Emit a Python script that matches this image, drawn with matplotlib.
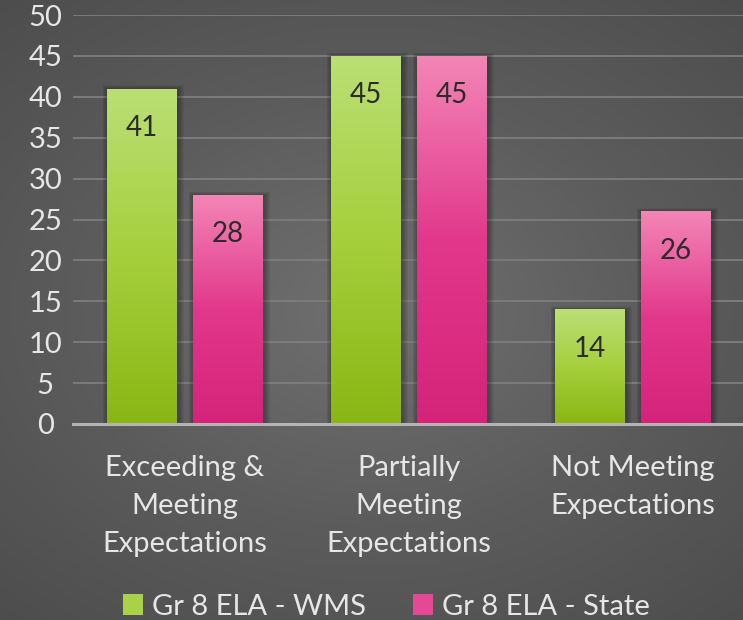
import numpy as np
import matplotlib
matplotlib.use("Agg")
import matplotlib.pyplot as plt
from matplotlib.colors import LinearSegmentedColormap
from matplotlib.patches import Rectangle

plt.rcParams['font.family'] = ['Lato', 'DejaVu Sans']

categories = ["Exceeding &\nMeeting\nExpectations", "Partially\nMeeting\nExpectations",
              "Not Meeting\nExpectations"]
series_names = ["Gr 8 ELA - WMS", "Gr 8 ELA - State"]
wms = [41, 45, 14]
state = [28, 45, 26]
yticks = [0, 5, 10, 15, 20, 25, 30, 35, 40, 45, 50]

green_cmap = LinearSegmentedColormap.from_list("g", ["#8ab614", "#a6cf3c", "#bbdf76"])
pink_cmap = LinearSegmentedColormap.from_list("p", ["#d5237a", "#e2388c", "#f386b6"])

fig = plt.figure(figsize=(7.43, 6.2), dpi=100)

# radial background
bg = fig.add_axes([0, 0, 1, 1], zorder=-10)
yy, xx = np.mgrid[-1:1:300j, -1:1:360j]
r = np.sqrt((xx * 0.9) ** 2 + (yy * 1.0) ** 2)
bg.imshow(r, cmap=LinearSegmentedColormap.from_list("bg", ["#707070", "#5c5c5c", "#4c4c4c"]),
          aspect="auto", extent=[0, 1, 0, 1], vmin=0, vmax=1.4)
bg.axis("off")

ax = fig.add_axes([73 / 743, 196 / 620, 672 / 743, 409 / 620])
ax.set_facecolor("none")
x = np.arange(len(categories))
w = 0.3125
off = 0.192

grad = np.linspace(0, 1, 256).reshape(-1, 1)
for vals, dx, cmap in [(wms, -off, green_cmap), (state, off, pink_cmap)]:
    bars = ax.bar(x + dx, vals, w, color="none", zorder=3)
    for b, v in zip(bars, vals):
        bx, bw, bh = b.get_x(), b.get_width(), b.get_height()
        # soft shadow
        for k in range(6):
            ax.add_patch(Rectangle((bx - 0.004 * k, 0), bw + 0.008 * k + 0.01, bh + 0.08 * k,
                                   facecolor="black", alpha=0.05, lw=0, zorder=2))
        im = ax.imshow(grad, cmap=cmap, origin="lower", aspect="auto",
                       extent=[bx, bx + bw, 0, bh], zorder=3)
        im.set_clip_path(b)
        ax.text(b.get_x() + bw / 2, bh - 4.8, str(v), ha="center", va="center",
                fontsize=20, color="#2b2b2b", zorder=5)

ax.set_xlim(-0.5, 2.5)
ax.set_ylim(0, 50)
ax.set_yticks(yticks)
ax.set_yticklabels([str(t) for t in yticks])
ax.set_xticks(x)
ax.set_xticklabels(categories, linespacing=1.58)
ax.grid(axis="y", color="#7e7e7e", lw=1.3, zorder=0)
ax.set_axisbelow(True)
for s in ["top", "right", "left"]:
    ax.spines[s].set_visible(False)
ax.spines["bottom"].set_color("#b4b4b4")
ax.spines["bottom"].set_linewidth(2.2)
ax.spines["bottom"].set_zorder(6)
ax.tick_params(axis="both", length=0, colors="#e6e6e6", labelsize=21)
ax.tick_params(axis="y", pad=20)
ax.tick_params(axis="x", pad=22)
for t in ax.get_yticklabels():
    t.set_horizontalalignment("center")

# legend
handles = [Rectangle((0, 0), 1, 1, facecolor=green_cmap(0.6), lw=0),
           Rectangle((0, 0), 1, 1, facecolor=pink_cmap(0.6), lw=0)]
fig.legend(handles, series_names, loc="lower center", bbox_to_anchor=(0.52, -0.042), ncol=2,
           frameon=False, fontsize=21, labelcolor="#e6e6e6", handlelength=0.7,
           handleheight=0.7, handletextpad=0.3, columnspacing=1.6)

fig.savefig("out.png", dpi=100)
